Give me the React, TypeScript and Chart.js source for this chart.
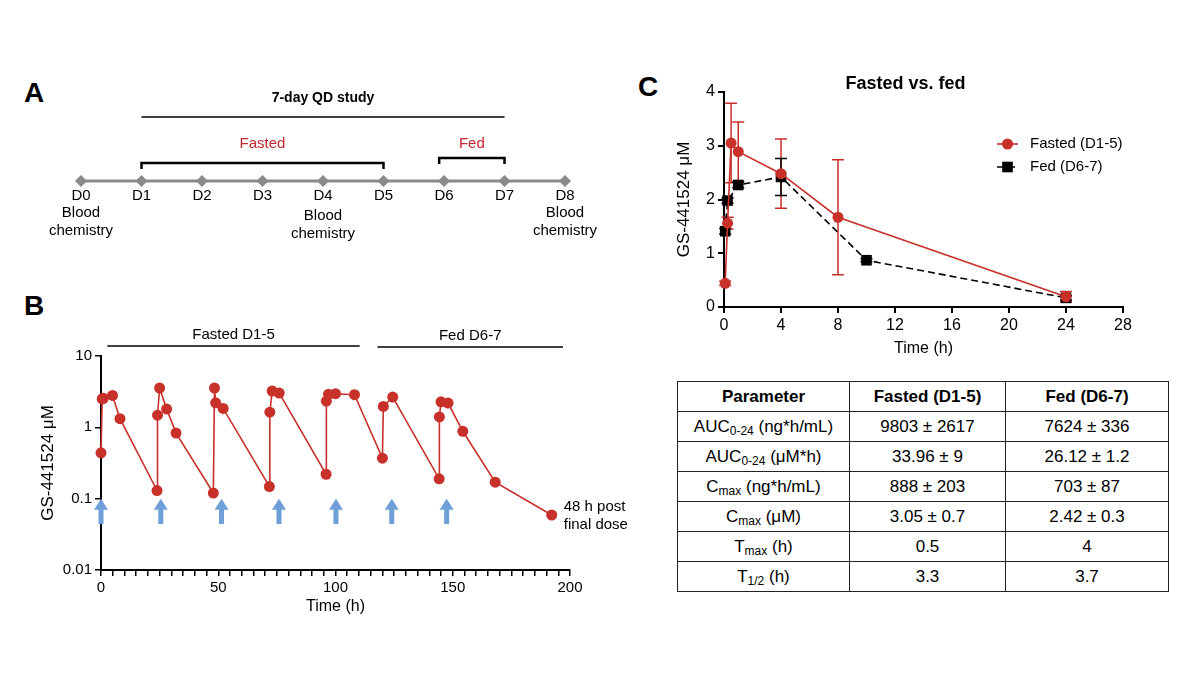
import React, { useEffect, useRef } from "react";
import { Chart, registerables } from "chart.js";

Chart.register(...registerables);

const FONT = '"Liberation Sans", Arial, Helvetica, sans-serif';
Chart.defaults.font.family = FONT;
Chart.defaults.color = "#000";

const DATA_RED = "#c8302a";
const LABEL_RED = "#c1272d";
const ARROW_BLUE = "#6e9fd9";
const TIMELINE_GRAY = "#8a8a8a";

// ---------- Panel A: study timeline ----------
const timelineDays = [0, 1, 2, 3, 4, 5, 6, 7, 8];
const timelineLabels = ["D0", "D1", "D2", "D3", "D4", "D5", "D6", "D7", "D8"];
const bloodChemistryDays = [0, 4, 8];
const studySpan = [1, 7];
const fastedBracket = [1, 5];
const fedBracket = [5.92, 7];

// ---------- Panel B: 7-day concentration profile ----------
const bTimes = [
  0, 0.5, 1, 4.9, 8.1, 23.9,
  24.1, 25, 28, 32, 47.9,
  48.4, 48.9, 52.1, 71.8,
  72, 73, 76, 96,
  96.1, 97, 100, 108.1, 120,
  120.4, 124.4, 144.2,
  144.3, 145, 148, 154.3, 168.1, 192.2,
];
const bConc = [
  0.44, 2.5, 2.55, 2.8, 1.32, 0.13,
  1.48, 3.56, 1.8, 0.83, 0.12,
  3.56, 2.21, 1.84, 0.148,
  1.63, 3.23, 3.02, 0.22,
  2.33, 2.9, 2.96, 2.87, 0.37,
  1.96, 2.66, 0.19,
  1.4, 2.28, 2.19, 0.88, 0.17, 0.059,
];
const doseTimes = [0, 25.5, 51.4, 75.9, 100.2, 124, 147.4];
const arrowTipValue = 0.1;
const arrowBaseValue = 0.044;
const bYTicks = [0.01, 0.1, 1, 10];
const fastedPeriodB = [2.7, 110.3];
const fedPeriodB = [117.9, 197];

// ---------- Panel C: fasted vs fed ----------
const fastedTime = [0.083, 0.25, 0.5, 1, 4, 8, 24];
const fastedMean = [0.44, 1.56, 3.05, 2.89, 2.48, 1.67, 0.19];
const fastedSD = [0.04, 0.11, 0.74, 0.55, 0.645, 1.07, 0.1];
const fedTime = [0.083, 0.25, 1, 4, 10, 24];
const fedMean = [1.41, 1.98, 2.27, 2.42, 0.87, 0.17];
const fedSD = [0.05, 0.05, 0.05, 0.345, 0.03, 0.04];

// ---------- Table ----------
const tableHeader = ["Parameter", "Fasted (D1-5)", "Fed (D6-7)"];
const paramBase = ["AUC", "AUC", "C", "C", "T", "T"];
const paramSub = ["0-24", "0-24", "max", "max", "max", "1/2"];
const paramUnit = [" (ng*h/mL)", " (μM*h)", " (ng*h/mL)", " (μM)", " (h)", " (h)"];
const fastedParams = ["9803 ± 2617", "33.96 ± 9", "888 ± 203", "3.05 ± 0.7", "0.5", "3.3"];
const fedParams = ["7624 ± 336", "26.12 ± 1.2", "703 ± 87", "2.42 ± 0.3", "4", "3.7"];

function useChart(ref: any, make: () => any) {
  useEffect(() => {
    const chart = new Chart(ref.current, make());
    return () => chart.destroy();
  }, []);
}

function timelineConfig() {
  const plugin = {
    id: "timelineDecor",
    afterDraw(chart: any) {
      const { ctx } = chart;
      const xs = chart.scales.x;
      const ys = chart.scales.y;
      const base = ys.getPixelForValue(0);
      ctx.save();
      ctx.textAlign = "center";
      ctx.textBaseline = "middle";
      ctx.fillStyle = "#000";
      ctx.font = `15px ${FONT}`;
      timelineDays.forEach((d, i) => {
        ctx.fillText(timelineLabels[i], xs.getPixelForValue(d), base + 15);
      });
      bloodChemistryDays.forEach((d) => {
        const off = d === 4 ? 3 : 0;
        const px = xs.getPixelForValue(d);
        ctx.fillText("Blood", px, base + 32 + off);
        ctx.fillText("chemistry", px, base + 50 + off);
      });
      // study span
      const s0 = xs.getPixelForValue(studySpan[0]);
      const s1 = xs.getPixelForValue(studySpan[1]);
      ctx.strokeStyle = "#000";
      ctx.lineWidth = 1.3;
      ctx.beginPath();
      ctx.moveTo(s0, base - 64);
      ctx.lineTo(s1, base - 64);
      ctx.stroke();
      ctx.font = `bold 14px ${FONT}`;
      ctx.fillText("7-day QD study", (s0 + s1) / 2, base - 83);
      // brackets
      const drawBracket = (span: number[], y: number, label: string) => {
        const a = xs.getPixelForValue(span[0]);
        const b = xs.getPixelForValue(span[1]);
        ctx.lineWidth = 2.5;
        ctx.strokeStyle = "#000";
        ctx.beginPath();
        ctx.moveTo(a, y + 6);
        ctx.lineTo(a, y);
        ctx.lineTo(b, y);
        ctx.lineTo(b, y + 6);
        ctx.stroke();
        ctx.fillStyle = LABEL_RED;
        ctx.font = `15px ${FONT}`;
        ctx.fillText(label, (a + b) / 2, base - 37);
      };
      drawBracket(fastedBracket, base - 18, "Fasted");
      drawBracket(fedBracket, base - 23, "Fed");
      ctx.restore();
    },
  };
  return {
    type: "scatter",
    data: {
      datasets: [
        {
          data: timelineDays.map((d) => ({ x: d, y: 0 })),
          showLine: true,
          borderColor: TIMELINE_GRAY,
          backgroundColor: TIMELINE_GRAY,
          borderWidth: 3,
          pointStyle: "rectRot",
          pointRadius: 6,
          pointBorderWidth: 0,
          clip: false,
        },
      ],
    },
    options: {
      animation: false,
      responsive: false,
      events: [],
      layout: { padding: { left: 41, right: 55, top: 101, bottom: 59 } },
      plugins: { legend: { display: false }, tooltip: { enabled: false } },
      scales: {
        x: { type: "linear", min: 0, max: 8, display: false },
        y: { type: "linear", min: -1, max: 1, display: false },
      },
    },
    plugins: [plugin],
  };
}

function panelBConfig() {
  const plugin = {
    id: "bDecor",
    afterDraw(chart: any) {
      const { ctx, chartArea } = chart;
      const xs = chart.scales.x;
      const ys = chart.scales.y;
      ctx.save();
      // dosing arrows
      ctx.fillStyle = ARROW_BLUE;
      const tipY = ys.getPixelForValue(arrowTipValue);
      const baseY = ys.getPixelForValue(arrowBaseValue);
      doseTimes.forEach((t) => {
        const px = xs.getPixelForValue(t);
        ctx.fillRect(px - 2.5, tipY + 9, 5, baseY - tipY - 9);
        ctx.beginPath();
        ctx.moveTo(px, tipY);
        ctx.lineTo(px + 7, tipY + 11);
        ctx.lineTo(px - 7, tipY + 11);
        ctx.closePath();
        ctx.fill();
      });
      // period lines
      ctx.strokeStyle = "#000";
      ctx.lineWidth = 1.3;
      ctx.fillStyle = "#000";
      ctx.font = `15px ${FONT}`;
      ctx.textAlign = "center";
      ctx.textBaseline = "middle";
      const period = (span: number[], label: string, dy: number) => {
        const a = xs.getPixelForValue(span[0]);
        const b = xs.getPixelForValue(span[1]);
        ctx.beginPath();
        ctx.moveTo(a, chartArea.top - 10 + dy);
        ctx.lineTo(b, chartArea.top - 10 + dy);
        ctx.stroke();
        ctx.fillText(label, (a + b) / 2, chartArea.top - 21 + dy);
      };
      period(fastedPeriodB, "Fasted D1-5", 0);
      period(fedPeriodB, "Fed D6-7", 1);
      // final annotation
      const last = bTimes.length - 1;
      const lx = xs.getPixelForValue(bTimes[last]);
      const ly = ys.getPixelForValue(bConc[last]);
      ctx.textAlign = "left";
      ctx.fillText("48 h post", lx + 12, ly - 8);
      ctx.fillText("final dose", lx + 12, ly + 10);
      ctx.restore();
    },
  };
  return {
    type: "scatter",
    data: {
      datasets: [
        {
          data: bTimes.map((t, i) => ({ x: t, y: bConc[i] })),
          showLine: true,
          borderColor: DATA_RED,
          backgroundColor: DATA_RED,
          borderWidth: 1.6,
          pointRadius: 5.5,
          pointBorderWidth: 0,
          clip: false,
        },
      ],
    },
    options: {
      animation: false,
      responsive: false,
      events: [],
      layout: { padding: { left: 0, right: 70, top: 46, bottom: 2 } },
      plugins: { legend: { display: false }, tooltip: { enabled: false } },
      scales: {
        x: {
          type: "linear",
          min: 0,
          max: 200,
          afterFit: (s: any) => {
            s.height = 48;
          },
          ticks: {
            stepSize: 5,
            autoSkip: false,
            maxRotation: 0,
            padding: 3,
            color: "#000",
            font: { size: 15 },
            callback: (v: number) => (v % 50 === 0 ? String(v) : ""),
          },
          grid: {
            display: true,
            drawOnChartArea: false,
            drawTicks: true,
            tickLength: 6,
            color: "#000",
            lineWidth: 1.5,
          },
          border: { display: true, color: "#000", width: 2 },
          title: {
            display: true,
            text: "Time (h)",
            color: "#000",
            font: { size: 16 },
            padding: { top: 0, bottom: 2 },
          },
        },
        y: {
          type: "logarithmic",
          min: 0.01,
          max: 10,
          afterBuildTicks: (s: any) => {
            s.ticks = bYTicks.map((v) => ({ value: v }));
          },
          afterFit: (s: any) => {
            s.width = 81;
          },
          ticks: {
            padding: 3,
            color: "#000",
            font: { size: 15 },
            callback: (v: number) => String(v),
          },
          grid: {
            display: true,
            drawOnChartArea: false,
            drawTicks: true,
            tickLength: 6,
            color: "#000",
            lineWidth: 1.5,
          },
          border: { display: true, color: "#000", width: 2 },
          title: {
            display: true,
            text: "GS-441524 μM",
            color: "#000",
            font: { size: 17 },
            padding: { top: 18, bottom: 0 },
          },
        },
      },
    },
    plugins: [plugin],
  };
}

function panelCConfig() {
  const plugin = {
    id: "cDecor",
    beforeDatasetsDraw(chart: any) {
      const { ctx } = chart;
      const xs = chart.scales.x;
      const ys = chart.scales.y;
      ctx.save();
      ctx.lineWidth = 1.5;
      chart.data.datasets.forEach((ds: any) => {
        ctx.strokeStyle = ds.borderColor;
        ds.data.forEach((p: any, i: number) => {
          const e = ds.errorBars[i];
          const px = xs.getPixelForValue(p.x);
          const top = ys.getPixelForValue(p.y + e);
          const bot = ys.getPixelForValue(Math.max(0, p.y - e));
          ctx.beginPath();
          ctx.moveTo(px, top);
          ctx.lineTo(px, bot);
          ctx.moveTo(px - 6, top);
          ctx.lineTo(px + 6, top);
          ctx.moveTo(px - 6, bot);
          ctx.lineTo(px + 6, bot);
          ctx.stroke();
        });
      });
      ctx.restore();
    },
    afterDraw(chart: any) {
      const { ctx, chartArea } = chart;
      ctx.save();
      // title
      ctx.fillStyle = "#000";
      ctx.textAlign = "center";
      ctx.textBaseline = "middle";
      ctx.font = `bold 18px ${FONT}`;
      ctx.fillText("Fasted vs. fed", (chartArea.left + chartArea.right) / 2 - 18, chartArea.top - 8);
      // legend
      ctx.font = `15px ${FONT}`;
      ctx.textAlign = "left";
      chart.data.datasets.forEach((ds: any, i: number) => {
        const y = chartArea.top + 52 + 23 * i;
        const x0 = chartArea.right - 126;
        const x1 = chartArea.right - 105;
        ctx.strokeStyle = ds.borderColor;
        ctx.lineWidth = ds.borderWidth;
        ctx.setLineDash(ds.borderDash || []);
        ctx.beginPath();
        ctx.moveTo(x0, y);
        ctx.lineTo(x1, y);
        ctx.stroke();
        ctx.setLineDash([]);
        ctx.fillStyle = ds.backgroundColor;
        const cx = (x0 + x1) / 2;
        if (ds.pointStyle === "rect") {
          const h = ds.pointRadius * Math.SQRT1_2;
          ctx.fillRect(cx - h, y - h, 2 * h, 2 * h);
        } else {
          ctx.beginPath();
          ctx.arc(cx, y, ds.pointRadius, 0, Math.PI * 2);
          ctx.fill();
        }
        ctx.fillStyle = "#000";
        ctx.fillText(ds.label, chartArea.right - 93, y);
      });
      ctx.restore();
    },
  };
  const axisCommon = {
    grid: {
      display: true,
      drawOnChartArea: false,
      drawTicks: true,
      tickLength: 6,
      color: "#000",
      lineWidth: 2,
    },
    border: { display: true, color: "#000", width: 2 },
  };
  return {
    type: "scatter",
    data: {
      datasets: [
        {
          label: "Fasted (D1-5)",
          data: fastedTime.map((t, i) => ({ x: t, y: fastedMean[i] })),
          errorBars: fastedSD,
          showLine: true,
          borderColor: DATA_RED,
          backgroundColor: DATA_RED,
          borderWidth: 1.6,
          pointStyle: "circle",
          pointRadius: 5.5,
          pointBorderWidth: 0,
          clip: false,
        },
        {
          label: "Fed (D6-7)",
          data: fedTime.map((t, i) => ({ x: t, y: fedMean[i] })),
          errorBars: fedSD,
          showLine: true,
          borderColor: "#000",
          backgroundColor: "#000",
          borderWidth: 1.6,
          borderDash: [7, 4],
          pointStyle: "rect",
          pointRadius: 7.5,
          pointBorderWidth: 0,
          clip: false,
        },
      ],
    },
    options: {
      animation: false,
      responsive: false,
      events: [],
      layout: { padding: { left: 0, right: 77, top: 42, bottom: 10 } },
      plugins: { legend: { display: false }, tooltip: { enabled: false } },
      scales: {
        x: {
          type: "linear",
          min: 0,
          max: 28,
          afterFit: (s: any) => {
            s.height = 53;
          },
          ticks: { stepSize: 4, maxRotation: 0, padding: 3, color: "#000", font: { size: 16 } },
          ...axisCommon,
          title: {
            display: true,
            text: "Time (h)",
            color: "#000",
            font: { size: 16 },
            padding: { top: 0, bottom: 2 },
          },
        },
        y: {
          type: "linear",
          min: 0,
          max: 4,
          afterFit: (s: any) => {
            s.width = 84;
          },
          ticks: { stepSize: 1, padding: 3, color: "#000", font: { size: 16 } },
          ...axisCommon,
          title: {
            display: true,
            text: "GS-441524 μM",
            color: "#000",
            font: { size: 17 },
            padding: { top: 34, bottom: 0 },
          },
        },
      },
    },
    plugins: [plugin],
  };
}

function ChartCanvas(props: { make: () => any; left: number; top: number; width: number; height: number }) {
  const ref = useRef<HTMLCanvasElement>(null);
  useChart(ref, props.make);
  return (
    <canvas
      ref={ref}
      width={props.width}
      height={props.height}
      style={{ position: "absolute", left: props.left, top: props.top, width: props.width, height: props.height }}
    />
  );
}

const letterStyle = (left: number, top: number): React.CSSProperties => ({
  position: "absolute",
  left,
  top,
  fontFamily: FONT,
  fontWeight: "bold",
  fontSize: 28,
  lineHeight: "28px",
  color: "#000",
});

const cellStyle: React.CSSProperties = {
  border: "1px solid #222",
  padding: 0,
  height: 29,
  textAlign: "center",
  verticalAlign: "middle",
  lineHeight: "20px",
  whiteSpace: "nowrap",
};

export default function App() {
  return (
    <div
      style={{
        position: "absolute",
        left: 0,
        top: 0,
        width: 1200,
        height: 674,
        background: "#fff",
        overflow: "hidden",
        fontFamily: FONT,
      }}
    >
      <div style={letterStyle(24, 79)}>A</div>
      <div style={letterStyle(24, 292)}>B</div>
      <div style={letterStyle(638, 73)}>C</div>

      <ChartCanvas make={timelineConfig} left={40} top={60} width={580} height={200} />
      <ChartCanvas make={panelBConfig} left={20} top={310} width={620} height={310} />
      <ChartCanvas make={panelCConfig} left={640} top={50} width={560} height={320} />

      <table
        style={{
          position: "absolute",
          left: 677,
          top: 381,
          width: 491,
          borderCollapse: "collapse",
          tableLayout: "fixed",
          fontFamily: FONT,
          fontSize: 17,
          color: "#000",
          border: "1.5px solid #222",
        }}
      >
        <colgroup>
          <col style={{ width: 172 }} />
          <col style={{ width: 156 }} />
          <col style={{ width: 163 }} />
        </colgroup>
        <tbody>
          <tr>
            {tableHeader.map((h) => (
              <th key={h} style={{ ...cellStyle, fontWeight: "bold" }}>
                {h}
              </th>
            ))}
          </tr>
          {paramBase.map((b, i) => (
            <tr key={i}>
              <td style={cellStyle}>
                {b}
                <sub style={{ fontSize: 12, lineHeight: "0", verticalAlign: "-3px" }}>{paramSub[i]}</sub>
                {paramUnit[i]}
              </td>
              <td style={cellStyle}>{fastedParams[i]}</td>
              <td style={cellStyle}>{fedParams[i]}</td>
            </tr>
          ))}
        </tbody>
      </table>
    </div>
  );
}
